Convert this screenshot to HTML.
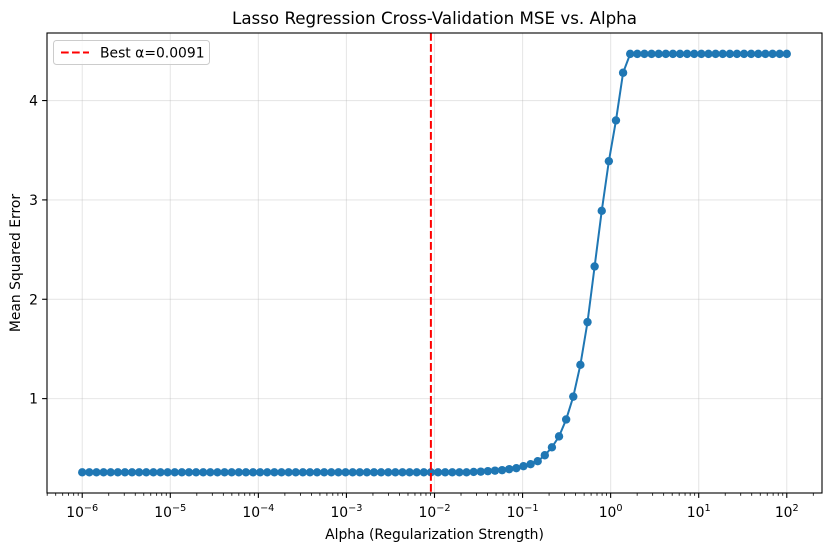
<!DOCTYPE html>
<html><head><meta charset="utf-8"><style>
body{margin:0;background:#fff;}
svg{display:block;font-family:"DejaVu Sans","Liberation Sans",sans-serif;}
</style></head><body>
<svg id="chart" width="833" height="552"></svg>
<script>
const logAlphaStart = -6, logAlphaEnd = 2, nPoints = 100;
const mseHead = [0.32,0.34,0.37,0.43,0.51,0.62,0.79,1.02,1.34,1.77,2.33,2.89,3.39,3.80,4.28];
const mseRamp = [0.262,0.265,0.27,0.275,0.28,0.29,0.30];
const mseFlatLow = 0.258, mseFlatHigh = 4.47;
const bestAlpha = 0.0091;
const xTickExps = [-6,-5,-4,-3,-2,-1,0,1,2];
const yTicks = [1,2,3,4];
const mse = [];
for (let i=0;i<nPoints;i++){
  if (i<55) mse.push(mseFlatLow);
  else if (i<62) mse.push(mseRamp[i-55]);
  else if (i<77) mse.push(mseHead[i-62]);
  else mse.push(mseFlatHigh);
}
const L=47,R=822,T=33,B=493;
const xmin=-6.4,xmax=2.4,ymin=0.05,ymax=4.68;
const X=lg=>L+(lg-xmin)/(xmax-xmin)*(R-L);
const Y=v=>B-(v-ymin)/(ymax-ymin)*(B-T);
const svg=document.getElementById('chart');
const NS='http://www.w3.org/2000/svg';
function mk(tag,attrs,parent){const e=document.createElementNS(NS,tag);for(const k in attrs)e.setAttribute(k,attrs[k]);(parent||svg).appendChild(e);return e;}
xTickExps.forEach(e=>{const g=mk('line',{x1:X(e),x2:X(e),y1:T,y2:B,stroke:'#b0b0b0','stroke-opacity':0.3,'stroke-width':1.1});

});
yTicks.forEach(v=>{const g=mk('line',{x1:L,x2:R,y1:Y(v),y2:Y(v),stroke:'#b0b0b0','stroke-opacity':0.3,'stroke-width':1.1});

});
const pts=mse.map((v,i)=>[X(logAlphaStart+(logAlphaEnd-logAlphaStart)*i/(nPoints-1)),Y(v)]);
const line=mk('polyline',{points:pts.map(p=>p.join(',')).join(' '),fill:'none',stroke:'#1f77b4','stroke-width':2});


pts.forEach(p=>{const c=mk('circle',{cx:p[0],cy:p[1],r:4.2,fill:'#1f77b4'});

});
const bx=X(Math.log10(bestAlpha));
const bl=mk('line',{x1:bx,x2:bx,y1:T,y2:B,stroke:'#ff0000','stroke-width':2,'stroke-dasharray':'7.7,3.3'});


const fr=mk('rect',{x:L,y:T,width:R-L,height:B-T,fill:'none',stroke:'#000','stroke-width':1.1});


for(let e=-7;e<=2;e++){for(let m=1;m<10;m++){const lg=e+Math.log10(m);if(lg<xmin||lg>xmax)continue;
const t=mk('line',{x1:X(lg),x2:X(lg),y1:B,y2:B+(m===1?4.9:2.8),stroke:'#000','stroke-width':m===1?1.1:0.8});

}}
xTickExps.forEach(e=>{const t=mk('text',{x:X(e),y:B+24,'text-anchor':'middle','font-size':13.9});


t.innerHTML='10<tspan dy="-6" font-size="9.7">'+(e<0?'\u2212'+(-e):e)+'</tspan>';});
yTicks.forEach(v=>{const t=mk('line',{x1:L-4.9,x2:L,y1:Y(v),y2:Y(v),stroke:'#000','stroke-width':1.1});


const l=mk('text',{x:L-9,y:Y(v)+5,'text-anchor':'end','font-size':13.9});


l.textContent=v;});
</script>
<script>
(function(){
const svg=document.getElementById('chart');const NS='http://www.w3.org/2000/svg';
function mk(tag,attrs){const e=document.createElementNS(NS,tag);for(const k in attrs)e.setAttribute(k,attrs[k]);svg.appendChild(e);return e;}
const title=mk('text',{x:434.5,y:24,'text-anchor':'middle','font-size':16.7});


title.textContent='Lasso Regression Cross-Validation MSE vs. Alpha';
const xl=mk('text',{x:434.5,y:539,'text-anchor':'middle','font-size':13.9});


xl.textContent='Alpha (Regularization Strength)';
const yl=mk('text',{x:0,y:0,'text-anchor':'middle','font-size':13.9,transform:'translate(20,263) rotate(-90)'});


yl.textContent='Mean Squared Error';
const lg=mk('rect',{x:53.5,y:40.5,width:156,height:24,rx:3,fill:'#fff','fill-opacity':0.8,stroke:'#ccc','stroke-width':1});


const ll=mk('line',{x1:61,x2:89,y1:52.5,y2:52.5,stroke:'#ff0000','stroke-width':2,'stroke-dasharray':'7.7,3.3'});


const lt=mk('text',{x:100,y:57.5,'font-size':13.9});


lt.textContent='Best \u03b1=0.0091';
})();
</script>
</body></html>
